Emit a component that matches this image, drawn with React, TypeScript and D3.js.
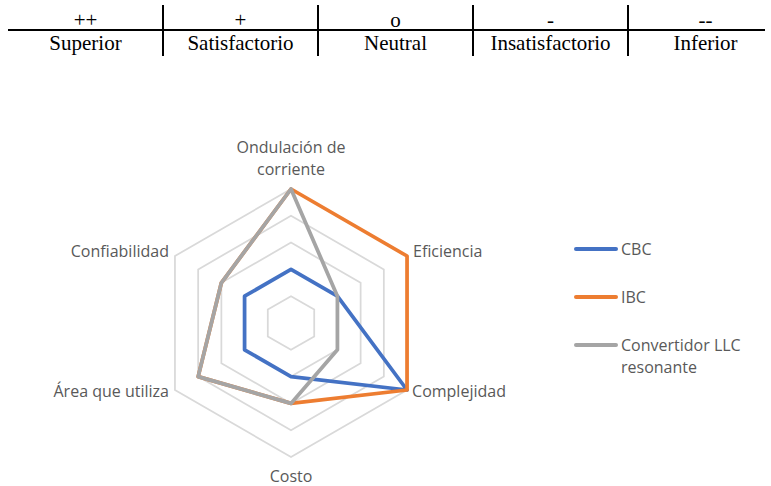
import React from "react";
import * as d3 from "d3";

const symbols = ["++", "+", "o", "-", "--"];
const ratings = ["Superior", "Satisfactorio", "Neutral", "Insatisfactorio", "Inferior"];

const axes = ["Ondulación de corriente", "Eficiencia", "Complejidad", "Costo", "Área que utiliza", "Confiabilidad"];
const cbc = [2, 2, 5, 2, 2, 2];
const ibc = [5, 5, 5, 3, 4, 3];
const llc = [5, 2, 2, 3, 4, 3];
const seriesNames = ["CBC", "IBC", "Convertidor LLC resonante"];
const levels = [1, 2, 3, 4, 5];

const colors = ["#4472C4", "#ED7D31", "#A5A5A5"];

export default function App() {
  const W = 771, H = 486;
  const cx = 291, cy = 323;
  const r = d3.scaleLinear().domain([0, 5]).range([0, 134]);
  const ang = (i: number) => (i * 2 * Math.PI) / axes.length;
  const pt = (i: number, v: number): [number, number] => [
    cx + r(v) * Math.sin(ang(i)),
    cy - r(v) * Math.cos(ang(i)),
  ];
  const line = d3.line<[number, number]>().curve(d3.curveLinearClosed);
  const series = [cbc, ibc, llc];

  const colX = d3.scaleLinear().domain([0, 5]).range([8, 783]);
  const labelFont = "'Open Sans', sans-serif";
  const labelColor = "#595959";
  const fs = 16;

  return (
    <svg width={W} height={H} style={{ position: "absolute", left: 0, top: 0, background: "#fff" }}>
      {/* table */}
      <line x1={8} x2={765} y1={30} y2={30} stroke="#000" strokeWidth={2} />
      {[1, 2, 3, 4].map((k) => (
        <line key={k} x1={colX(k)} x2={colX(k)} y1={5} y2={56} stroke="#000" strokeWidth={2} />
      ))}
      {symbols.map((s, k) => (
        <text key={s} x={(colX(k) + colX(k + 1)) / 2} y={27} textAnchor="middle"
          fontFamily="'Liberation Serif', serif" fontSize={21} fill="#000">{s}</text>
      ))}
      {ratings.map((s, k) => (
        <text key={s} x={(colX(k) + colX(k + 1)) / 2} y={50} textAnchor="middle"
          fontFamily="'Liberation Serif', serif" fontSize={21} fill="#000">{s}</text>
      ))}

      {/* grid */}
      {levels.map((l) => (
        <path key={l} d={line(axes.map((_, i) => pt(i, l))) || ""} fill="none" stroke="#D9D9D9" strokeWidth={1.75} />
      ))}

      {/* series */}
      {series.map((s, k) => (
        <path key={k} d={line(s.map((v, i) => pt(i, v))) || ""} fill="none" stroke={colors[k]}
          strokeWidth={3.75} strokeLinejoin="round" />
      ))}

      {/* axis labels */}
      <g fontFamily={labelFont} fontSize={fs} fill={labelColor}>
        <text x={pt(0, 5)[0]} y={pt(0, 5)[1] - 36} textAnchor="middle">Ondulación de</text>
        <text x={pt(0, 5)[0]} y={pt(0, 5)[1] - 14} textAnchor="middle">corriente</text>
        <text x={pt(1, 5)[0] + 6} y={pt(1, 5)[1] + 1}>{axes[1]}</text>
        <text x={pt(2, 5)[0] + 5} y={pt(2, 5)[1] + 7}>{axes[2]}</text>
        <text x={pt(3, 5)[0]} y={pt(3, 5)[1] + 25} textAnchor="middle">{axes[3]}</text>
        <text x={pt(4, 5)[0] - 6} y={pt(4, 5)[1] + 7} textAnchor="end">{axes[4]}</text>
        <text x={pt(5, 5)[0] - 6} y={pt(5, 5)[1] + 1} textAnchor="end">{axes[5]}</text>
      </g>

      {/* legend */}
      <g fontFamily={labelFont} fontSize={fs} fill={labelColor}>
        {seriesNames.map((n, k) => {
          const y = 249 + k * 48;
          return (
            <g key={n}>
              <line x1={576} x2={616} y1={y} y2={y} stroke={colors[k]} strokeWidth={4} strokeLinecap="round" />
              {k < 2 ? (
                <text x={621} y={y + 6}>{n}</text>
              ) : (
                <>
                  <text x={621} y={y + 6}>Convertidor LLC</text>
                  <text x={621} y={y + 28}>resonante</text>
                </>
              )}
            </g>
          );
        })}
      </g>
    </svg>
  );
}
